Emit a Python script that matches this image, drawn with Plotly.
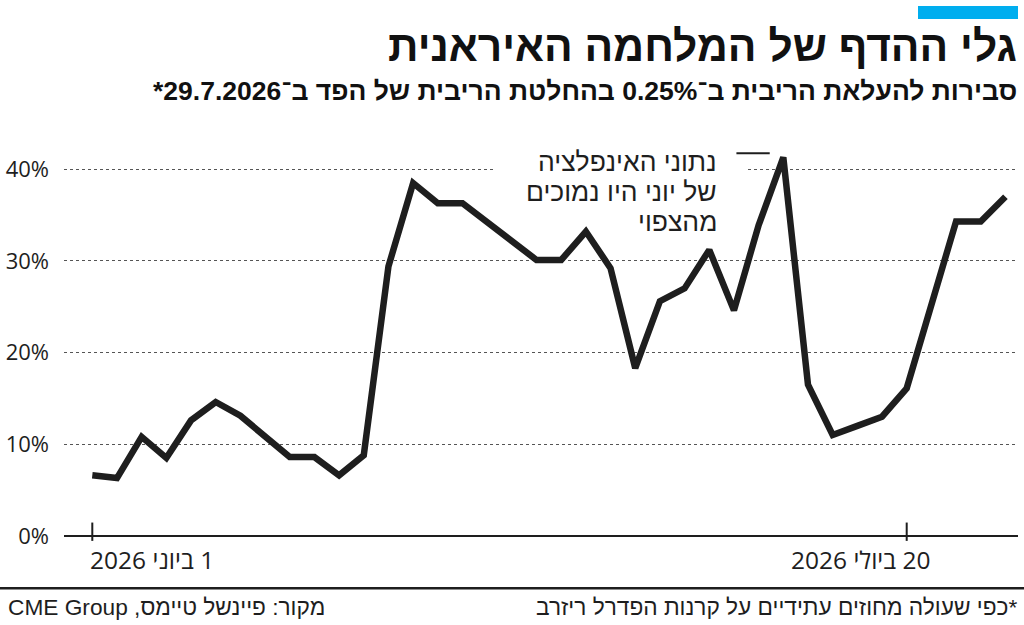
import plotly.graph_objects as go

# ---------------- data ----------------
dates = [
    "2026-06-01", "2026-06-02", "2026-06-03", "2026-06-04", "2026-06-05",
    "2026-06-08", "2026-06-09", "2026-06-10", "2026-06-11", "2026-06-12",
    "2026-06-15", "2026-06-16", "2026-06-17", "2026-06-18",
    "2026-06-22", "2026-06-23", "2026-06-24", "2026-06-25", "2026-06-26",
    "2026-06-29", "2026-06-30",
    "2026-07-01", "2026-07-02",
    "2026-07-06", "2026-07-07", "2026-07-08", "2026-07-09", "2026-07-10",
    "2026-07-13", "2026-07-14", "2026-07-15", "2026-07-16", "2026-07-17",
    "2026-07-20", "2026-07-21", "2026-07-22", "2026-07-23", "2026-07-24",
]
probability = [
    6.6, 6.3, 10.8, 8.5, 12.6, 14.6, 13.1, 10.9, 8.6, 8.6,
    6.6, 8.8, 29.4, 38.5, 36.3, 36.3, 34.3, 32.2, 30.1, 30.1,
    33.2, 29.2, 18.3, 25.6, 27.0, 31.2, 24.6, 33.9, 41.3, 16.5,
    11.0, 12.0, 13.0, 16.1, 25.2, 34.3, 34.3, 37.0,
]
y_tick_values = [0, 10, 20, 30, 40]
y_tick_labels = ["0%", "10%", "20%", "30%", "40%"]
x_label_dates = ["2026-06-01", "2026-07-20"]
x_label_texts = ["1 ביוני 2026", "20 ביולי 2026"]

title = "גלי ההדף של המלחמה האיראנית"
subtitle = "סבירות להעלאת הריבית ב־0.25% בהחלטת הריבית של הפד ב־29.7.2026*"
note_lines = ["נתוני האינפלציה", "של יוני היו נמוכים", "מהצפוי"]
note_date = "2026-07-14"
source_text = "מקור: פיינשל טיימס, CME Group"
footnote_text = "*כפי שעולה מחוזים עתידיים על קרנות הפדרל ריזרב"

RLE, PDF = "\u202B", "\u202C"
def rtl(s):
    return RLE + s + PDF

# ---------------- layout geometry ----------------
W, H = 1024, 625
ML, MR, MT, MB = 64, 6, 128, 79.8
PW, PH = W - ML - MR, H - MT - MB

def pxx(x):
    return (x - ML) / PW

def pxy(y):
    return (H - MB - y) / PH

idx = {d: i for i, d in enumerate(dates)}

HEB = "Liberation Sans Narrow, Liberation Sans, DejaVu Sans Condensed, sans-serif"
NOTE = "Liberation Sans, Arial, sans-serif"
NUM = "Open Sans, Liberation Sans, sans-serif"
INK = "#1e1e1e"

fig = go.Figure()
fig.add_trace(go.Scatter(
    x=dates, y=probability, mode="lines",
    line=dict(color=INK, width=6.5),
    hoverinfo="skip", showlegend=False,
))

shapes = []
# white gap in 40% gridline behind the note
shapes.append(dict(type="rect", xref="x", yref="y", layer="between",
                   x0=idx["2026-06-24"] + 0.32, x1=idx["2026-07-10"] - 0.45,
                   y0=39.2, y1=40.8, fillcolor="white", line=dict(width=0)))
# tick marks
for d in x_label_dates:
    shapes.append(dict(type="line", xref="x", yref="y",
                       x0=idx[d], x1=idx[d], y0=-0.55, y1=1.45,
                       line=dict(color=INK, width=2)))
# pointer next to note
shapes.append(dict(type="line", xref="x", yref="y",
                   x0=idx[note_date] - 2.9, x1=idx[note_date] - 1.55,
                   y0=41.75, y1=41.75, line=dict(color=INK, width=2)))
# blue bar
shapes.append(dict(type="rect", xref="paper", yref="paper",
                   x0=pxx(918), x1=pxx(1018), y0=pxy(19), y1=pxy(6),
                   fillcolor="#00aeef", line=dict(width=0)))
# footer rule
shapes.append(dict(type="line", xref="paper", yref="paper",
                   x0=pxx(0), x1=pxx(1024), y0=pxy(588.5), y1=pxy(588.5),
                   line=dict(color=INK, width=2.5)))

ann = []
ann.append(dict(text="<b>" + rtl(title) + "</b>", xref="paper", yref="paper",
                x=pxx(1019), y=pxy(46), xanchor="right", yanchor="middle",
                showarrow=False, font=dict(family=HEB, size=42.5, color="#111")))
ann.append(dict(text="<b>" + rtl(subtitle) + "</b>", xref="paper", yref="paper",
                x=pxx(1019), y=pxy(91), xanchor="right", yanchor="middle",
                showarrow=False, font=dict(family=HEB, size=26.5, color="#111")))
for i, line in enumerate(note_lines):
    ann.append(dict(text=rtl(line), xref="paper", yref="paper",
                    x=pxx(719), y=pxy(162 + 30 * i), xanchor="right", yanchor="middle",
                    showarrow=False, font=dict(family=NOTE, size=26.5, color=INK)))
ann.append(dict(text=rtl(x_label_texts[0]), xref="x", yref="paper",
                x=idx[x_label_dates[0]], xshift=-4, y=pxy(560), xanchor="left",
                yanchor="middle", showarrow=False,
                font=dict(family=NUM, size=24.5, color=INK)))
ann.append(dict(text=rtl(x_label_texts[1]), xref="x", yref="paper",
                x=idx[x_label_dates[1]], xshift=25, y=pxy(560), xanchor="right",
                yanchor="middle", showarrow=False,
                font=dict(family=NUM, size=24.5, color=INK)))
ann.append(dict(text=rtl(source_text), xref="paper", yref="paper",
                x=pxx(6), y=pxy(607), xanchor="left", yanchor="middle",
                showarrow=False, font=dict(family=HEB, size=22.7, color=INK)))
ann.append(dict(text=rtl(footnote_text), xref="paper", yref="paper",
                x=pxx(1019), y=pxy(607), xanchor="right", yanchor="middle",
                showarrow=False, font=dict(family=HEB, size=22.7, color=INK)))

px_per_idx = (906.7 - 92.3) / (idx["2026-07-20"] - idx["2026-06-01"])
x0_range = idx["2026-06-01"] - (92.3 - ML) / px_per_idx
x1_range = x0_range + PW / px_per_idx

fig.update_layout(
    width=W, height=H,
    margin=dict(l=ML, r=MR, t=MT, b=MB, pad=0),
    paper_bgcolor="white", plot_bgcolor="white",
    xaxis=dict(type="category", range=[x0_range, x1_range],
               showgrid=False, zeroline=False, showline=False,
               showticklabels=False, ticks=""),
    yaxis=dict(range=[-1, 44.5], tickvals=y_tick_values, ticktext=y_tick_labels,
               showgrid=True, gridcolor="#555", gridwidth=1.3, griddash="dot",
               zeroline=True, zerolinecolor=INK, zerolinewidth=2,
               showline=False, ticks="", ticklabelstandoff=14,
               tickfont=dict(family=NUM, size=22, color=INK)),
    shapes=shapes, annotations=ann,
    showlegend=False,
)

fig.write_html("out.html", config={"displayModeBar": False})
